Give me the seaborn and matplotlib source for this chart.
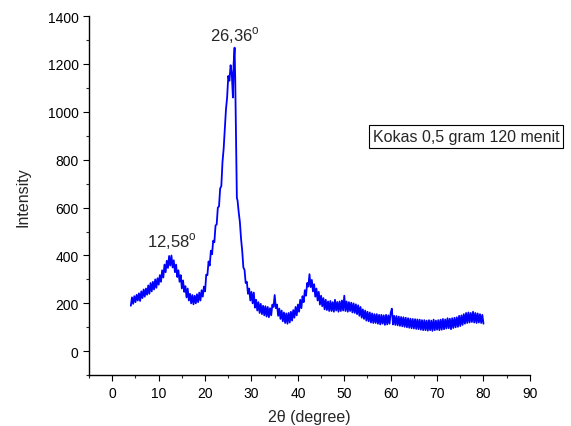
import numpy as np
import pandas as pd
import matplotlib
matplotlib.use("Agg")
import matplotlib.pyplot as plt
import seaborn as sns

# ---- data (2-theta in degrees, intensity counts) ----
# low-angle segment: 4.00 .. 24.00 deg, sampled every 0.25 deg
low_start, low_step = 4.0, 0.25
int_low = [190, 225, 198, 230, 205, 236, 212, 242, 210, 250, 222, 258, 228, 262,
           236, 275, 240, 285, 250, 290, 258, 300, 265, 305, 278, 318, 290, 338,
           308, 362, 330, 378, 348, 398, 358, 400, 350, 380, 330, 362, 310, 338,
           290, 318, 262, 296, 248, 272, 225, 262, 212, 240, 200, 235, 196, 232,
           200, 238, 205, 245, 212, 255, 228, 270, 250, 320, 318, 375, 358, 420,
           405, 462, 455, 525, 530, 600, 605, 680, 690, 790, 845]

# main graphite (002) peak region
theta_peak = [24.25, 24.5, 24.75, 25.0, 25.25, 25.5, 25.75, 26.0, 26.15, 26.36,
              26.5, 26.7, 26.85, 27.0, 27.25, 27.5]
int_peak = [930, 1010, 1060, 1150, 1130, 1195, 1160, 1060, 1200, 1268,
            1130, 860, 640, 630, 580, 540]

# high-angle segment: 27.75 .. 80.00 deg, sampled every 0.25 deg
high_start, high_step = 27.75, 0.25
int_high = [470, 420, 350, 340, 285, 290, 240, 262, 212, 248, 200, 245, 182, 215,
            170, 205, 160, 198, 155, 190, 150, 188, 145, 185, 142, 180, 150, 195,
            185, 235, 180, 195, 148, 178, 135, 170, 125, 162, 118, 158, 115, 160,
            120, 165, 128, 172, 140, 185, 150, 195, 165, 215, 180, 230, 205, 255,
            232, 285, 270, 322, 268, 298, 250, 280, 228, 262, 212, 248, 195, 232,
            188, 222, 175, 215, 172, 208, 168, 210, 168, 205, 165, 215, 170, 206,
            165, 208, 168, 212, 170, 232, 168, 208, 165, 205, 168, 203, 162, 200,
            160, 196, 155, 192, 148, 185, 140, 175, 135, 170, 128, 165, 125, 162,
            120, 158, 118, 155, 118, 155, 115, 152, 112, 152, 115, 150, 110, 152,
            112, 150, 115, 160, 178, 112, 148, 110, 147, 108, 145, 106, 143, 104,
            142, 102, 140, 100, 138, 98, 136, 96, 135, 95, 134, 93, 133, 92,
            132, 90, 130, 88, 130, 88, 128, 86, 130, 88, 128, 85, 132, 88,
            128, 90, 130, 88, 132, 90, 135, 92, 133, 95, 138, 96, 136, 92,
            138, 97, 140, 100, 142, 102, 148, 105, 150, 110, 155, 115, 160, 118,
            162, 120, 160, 122, 165, 120, 160, 118, 158, 120, 155, 118, 152, 115]

peak_labels = ["12,58$^{\\mathrm{o}}$", "26,36$^{\\mathrm{o}}$"]
peak_pos = [12.9, 26.36]
peak_height = [420, 1280]
legend_text = "Kokas 0,5 gram 120 menit"

x_ticks = [0, 10, 20, 30, 40, 50, 60, 70, 80, 90]
y_ticks = [0, 200, 400, 600, 800, 1000, 1200, 1400]

theta_low = low_start + low_step * np.arange(len(int_low))
theta_high = high_start + high_step * np.arange(len(int_high))

df = pd.DataFrame({
    "two_theta": np.concatenate([theta_low, theta_peak, theta_high]),
    "intensity": np.concatenate([int_low, int_peak, int_high]),
})

sns.set_style("ticks")
plt.rcParams["font.family"] = ["Liberation Sans", "DejaVu Sans"]
plt.rcParams["mathtext.fontset"] = "custom"
plt.rcParams["mathtext.rm"] = "Liberation Sans"

fig = plt.figure(figsize=(5.71, 4.27), dpi=100)
ax = fig.add_axes([0.156, 0.119, 0.772, 0.841])

sns.lineplot(data=df, x="two_theta", y="intensity", ax=ax, color="#0000FF",
             linewidth=1.3, estimator=None, sort=False)

ax.set_xlim(-5, 90)
ax.set_ylim(-100, 1400)
ax.set_xticks(x_ticks)
ax.set_yticks(y_ticks)
ax.set_xticks(np.arange(-5, 91, 5), minor=True)
ax.set_yticks(np.arange(-100, 1401, 100), minor=True)
ax.tick_params(axis="both", which="major", direction="out", length=4.5, width=0.8,
               labelsize=10, colors="black", pad=3)
ax.tick_params(axis="both", which="minor", direction="out", length=2.5, width=0.8)
for s in ["top", "right"]:
    ax.spines[s].set_visible(False)
for s in ["left", "bottom"]:
    ax.spines[s].set_color("black")
    ax.spines[s].set_linewidth(1.0)

ax.set_xlabel("2\u03b8 (degree)", fontsize=11.5, labelpad=7)
ax.set_ylabel("Intensity", fontsize=11.5, labelpad=12)

for lab, px, ph in zip(peak_labels, peak_pos, peak_height):
    ax.text(px, ph, lab, ha="center", va="bottom", fontsize=12)

fig.text(0.653, 0.677, legend_text, fontsize=11.5, ha="left", va="center",
         bbox=dict(boxstyle="square,pad=0.25", facecolor="white",
                   edgecolor="black", linewidth=0.8))

fig.savefig("out.png", dpi=100)
